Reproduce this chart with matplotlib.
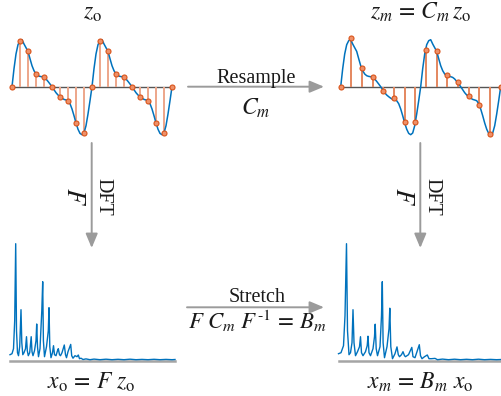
import numpy as np
import matplotlib
matplotlib.use('Agg')
import matplotlib.pyplot as plt

plt.rcParams['font.family'] = ['Liberation Serif', 'DejaVu Serif']
plt.rcParams['mathtext.fontset'] = 'stix'

W, H = 501, 396

# 一个周期的连续信号 (每 1/4 采样间隔一个点, 单位: 像素高度)
wave_period = [0, 18, 32.7, 42, 46, 47, 42.7, 39, 35.3, 28, 21, 16, 12.7, 11, 10.3, 10, 9.3,
               7.7, 5.3, 2.7, 0, -3, -6, -8.3, -10, -11.5, -12.7, -13.3, -14, -17, -22.3,
               -29, -36.3, -42.5, -46.7, -48, -46.3, -39, -27.3, -14]
# 原始采样 z_o (每周期 10 个点)
orig_period = [0, 46, 35.3, 12.7, 9.3, 0, -10, -14, -36.3, -46.3]
# 重采样 z_m = C_m z_o
resampled = [0, 48.3, 18.3, 10, -4.3, -11, -35.3, -35.3, 36.3, 35.7, 11.7, 5, -9.3, -18.7, -47.7, 0]
resample_step = 4 / 3

# 频谱 x_o: (横向偏移, 高度)
spec_o_x = [0, 2, 3.5, 4.7, 5.7, 6.5, 7.5, 8.5, 9.7, 11, 11.8, 12.8, 14, 15.5, 16.5, 17.3, 18.3,
            19.7, 21.2, 22, 23, 24.5, 26, 26.7, 27.5, 28.5, 30, 31.8, 32.7, 33.4, 34.5, 36.5,
            38.3, 39, 39.8, 41, 42.5, 43.5, 44.5, 46, 47.5, 48.3, 49.5, 50.5, 52, 54.3, 55.5,
            56.5, 58, 60.7, 61.7, 63, 65, 67, 68.3, 69.5, 71, 73, 76, 80, 84, 90, 96, 102, 108,
            114, 120, 126, 132, 138, 144, 150, 156, 162, 165]
spec_o_h = [6, 7, 12, 40, 117, 30, 8, 5, 14, 51, 18, 6, 8, 12, 24, 10, 5,
            8, 24, 9, 5, 10, 20, 36.7, 14, 4, 12, 50, 79, 20, 4, 14,
            30, 53, 14, 3, 8, 15, 6, 5, 10, 12, 6, 5, 8, 15.7, 6,
            3, 9, 16.3, 5, 2.5, 5, 4, 5.7, 2, 2.5, 1.2, 1.8, 1.0, 1.6, 1.0, 1.5, 1.0, 1.4,
            1.0, 1.5, 1.0, 1.3, 1.0, 1.4, 1.0, 1.3, 1.0, 1.2]
# 频谱 x_m = B_m x_o
spec_m_x = [0, 2.5, 5, 6.5, 8, 9, 10.5, 12, 13.5, 14.5, 15.5, 17, 19, 21, 22, 23, 24.5, 27,
            28.7, 29.5, 30.5, 32, 34.5, 36, 36.7, 37.7, 39, 41.5, 43, 43.8, 44.6, 46, 48.5,
            50.5, 51.3, 52.3, 54, 56.5, 58.5, 59.8, 61, 63, 64.5, 66, 67, 70, 73.3, 74.5, 76.5,
            78.5, 80.8, 82, 83.5, 86, 88.8, 90.5, 93, 96.5, 99, 104, 110, 116, 122, 128, 134,
            140, 146, 152, 158, 163]
spec_m_h = [7, 8, 15, 45, 117, 30, 6, 8, 18, 51, 18, 5, 9, 14, 24, 8, 5, 9,
            15, 24.5, 8, 5, 12, 24, 36.5, 12, 5, 14, 45, 79, 18, 3, 14,
            32, 52.5, 14, 2, 7, 13.8, 6, 4, 6, 9, 5, 4, 6, 13.3, 4, 3,
            9, 16, 5, 2, 4, 5.7, 2, 2, 2.3, 1, 1.6, 1.0, 1.5, 1.0, 1.4, 1.0,
            1.5, 1.0, 1.3, 1.0, 1.2]

BLUE = '#0072BD'
ORANGE = '#D95319'
GRAY = '#9B9B9B'


def px_axes(x0, y0, x1, y1):
    ax = fig.add_axes([x0 / W, 1 - y1 / H, (x1 - x0) / W, (y1 - y0) / H])
    ax.axis('off')
    return ax


def draw_wave(ax, t_samp, v_samp, stem_color):
    wave = np.concatenate([wave_period, wave_period, [0]])
    t = np.arange(len(wave)) / 4
    ax.plot([0, 20], [0, 0], color='#555555', lw=1.0, zorder=1, clip_on=False)
    ax.vlines(t_samp, 0, v_samp, color=stem_color, lw=1.4, zorder=2, clip_on=False)
    ax.plot(t, wave, color=BLUE, lw=1.1, zorder=3, clip_on=False)
    ax.plot(t_samp, v_samp, 'o', ms=3.6, mfc='#EE9068', mec=ORANGE, mew=0.8,
            zorder=4, clip_on=False)
    ax.set_xlim(0, 20)
    ax.set_ylim(-50, 50)


def draw_spec(ax, xs, hs, width):
    ax.plot([0, width], [0, 0], color='#A5A5A5', lw=1.8, zorder=1, clip_on=False)
    ax.plot(xs, hs, color=BLUE, lw=1.0, zorder=2, clip_on=False)
    ax.set_xlim(0, width)
    ax.set_ylim(0, 120.7)


fig = plt.figure(figsize=(W / 100, H / 100), dpi=100)

# 上方: 时域信号
ax1 = px_axes(12, 36.7, 172, 136.7)
orig = np.concatenate([orig_period, orig_period, [0]])
draw_wave(ax1, np.arange(len(orig)), orig, '#EDA68A')

ax2 = px_axes(340.7, 36.7, 500.7, 136.7)
draw_wave(ax2, np.arange(len(resampled)) * resample_step, resampled, '#E4875F')

# 下方: 频谱
ax3 = px_axes(10, 240, 175, 360.7)
draw_spec(ax3, spec_o_x, spec_o_h, 165)

ax4 = px_axes(338.5, 240, 501.5, 360.7)
draw_spec(ax4, spec_m_x, spec_m_h, 163)

# 文字和箭头
ax0 = fig.add_axes([0, 0, 1, 1], zorder=-1)
ax0.set_xlim(0, W)
ax0.set_ylim(H, 0)
ax0.axis('off')

arrow = dict(arrowstyle='-|>,head_length=0.86,head_width=0.36', color=GRAY, lw=1.4,
             shrinkA=0, shrinkB=0, mutation_scale=10)


def draw_arrow(x0, y0, x1, y1):
    ax0.annotate('', xy=(x1, y1), xytext=(x0, y0), arrowprops=arrow)


draw_arrow(188, 86.7, 324, 86.7)
draw_arrow(187, 307.3, 324, 307.3)
draw_arrow(91.7, 143, 91.7, 248)
draw_arrow(420.3, 143, 420.3, 248)

txt = dict(ha='center', va='baseline', color='#1a1a1a')
ax0.text(92, 18.3, r'$z_{\mathrm{o}}$', fontsize=17, **txt)
ax0.text(420.5, 19, r'$z_m\,=\,C_m\,z_{\mathrm{o}}$', fontsize=17, **txt)
ax0.text(256, 83.3, 'Resample', fontsize=14.5, **txt)
ax0.text(256, 115, r'$C_m$', fontsize=17, **txt)
ax0.text(256.7, 301.7, 'Stretch', fontsize=14.5, **txt)
ax0.text(257.5, 328.5, r'$F\ C_m\ F^{\text{-1}}\,=\,B_m$', fontsize=16.5, **txt)
ax0.text(91, 388.3, r'$x_{\mathrm{o}}\,=\,F\ z_{\mathrm{o}}$', fontsize=17, **txt)
ax0.text(420, 388.3, r'$x_m\,=\,B_m\ x_{\mathrm{o}}$', fontsize=17, **txt)

for xa in (91.7, 420.3):
    ax0.text(xa + 11.5, 196.5, 'DFT', fontsize=14.5, rotation=-90, ha='center', va='center',
             color='#1a1a1a')
    ax0.text(xa - 18.5, 196.5, r'$F$', fontsize=19, rotation=-90, ha='center', va='center',
             color='#1a1a1a')

fig.savefig('out.png', dpi=100)
